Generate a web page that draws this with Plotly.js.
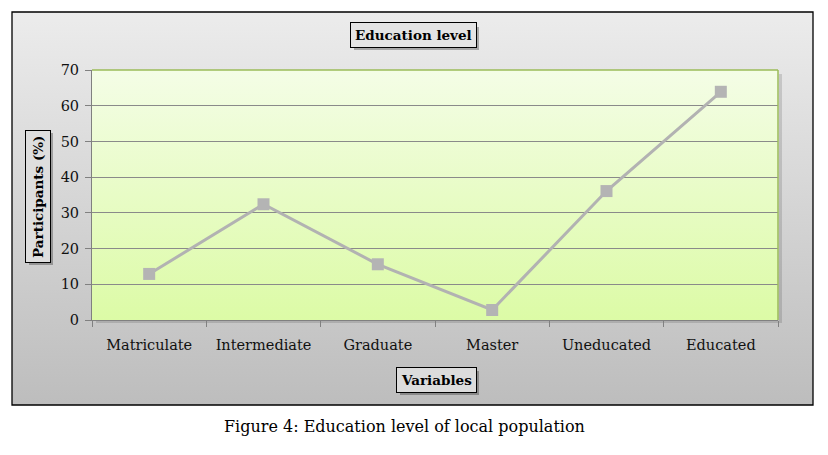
<!DOCTYPE html>
<html>
<head>
<meta charset="utf-8">
<script src="https://cdn.plot.ly/plotly-3.0.1.min.js"></script>
<style>
html,body{margin:0;padding:0;background:#fff;}
#chart{width:828px;height:455px;}
</style>
</head>
<body>
<div id="chart"></div>
<script>
var categories = ["Matriculate", "Intermediate", "Graduate", "Master", "Uneducated", "Educated"];
var participants = [12.9, 32.4, 15.6, 2.8, 36.1, 63.9];
var yTickValues = [0, 10, 20, 30, 40, 50, 60, 70];

var FONT = "'DejaVu Serif', 'Liberation Serif', serif";

function gradSvg(c1, c2) {
  var s = "<svg xmlns='http://www.w3.org/2000/svg' width='100' height='100' preserveAspectRatio='none'>" +
    "<defs><linearGradient id='g' x1='0' y1='0' x2='0' y2='1'>" +
    "<stop offset='0' stop-color='" + c1 + "'/><stop offset='1' stop-color='" + c2 + "'/></linearGradient></defs>" +
    "<rect width='100' height='100' fill='url(#g)'/></svg>";
  return "data:image/svg+xml;charset=utf-8," + encodeURIComponent(s);
}

// plot area pixels: x 92..778, y 70..320
var L = 92, R = 828 - 778, T = 70, B = 455 - 320;
var W = 828 - L - R, H = 455 - T - B;
function px(x) { return (x - L) / W; }
function py(y) { return (455 - B - y) / H; }

var trace = {
  x: categories,
  y: participants,
  type: "scatter",
  mode: "lines+markers",
  line: {color: "#b2b2b2", width: 3},
  marker: {symbol: "square", size: 12, color: "#b4b4b4"},
  hoverinfo: "x+y",
  cliponaxis: false
};

var boxFont = {family: FONT, size: 13.5, color: "#000"};

function boxAnn(text, x, y, angle, bg) {
  return {text: "<b>" + text + "</b>", xref: "paper", yref: "paper", x: x, y: y,
    xanchor: "center", yanchor: "middle", showarrow: false, textangle: angle,
    borderpad: 4, borderwidth: 1, font: boxFont, bgcolor: bg, bordercolor: "#000"};
}

function shadow(x0, x1, y0, y1) {
  return {type: "rect", xref: "paper", yref: "paper", x0: px(x0 + 3), x1: px(x1 + 3), y0: py(y1 + 3), y1: py(y0 + 3),
    line: {width: 0}, fillcolor: "rgba(0,0,0,0.28)", layer: "below"};
}

var annotations = [
  boxAnn("Education level", px(413), py(35), 0, "#e4e4e4"),
  boxAnn("Variables", px(436), py(380), 0, "#dcdcdc"),
  boxAnn("Participants (%)", px(38), py(196), -90, "#dedede"),
  {text: "Figure 4: Education level of local population", xref: "paper", yref: "paper",
   x: px(404), y: py(426), xanchor: "center", yanchor: "middle", showarrow: false,
   font: {family: FONT, size: 16, color: "#000"}}
];

var layout = {
  width: 828, height: 455,
  margin: {l: L, r: R, t: T, b: B, pad: 0},
  paper_bgcolor: "#ffffff",
  plot_bgcolor: "rgba(0,0,0,0)",
  showlegend: false,
  font: {family: FONT, size: 15, color: "#111"},
  xaxis: {
    type: "category",
    range: [-0.5, categories.length - 0.5],
    tickson: "boundaries",
    ticks: "outside",
    ticklen: 6,
    tickcolor: "#808080",
    showline: true,
    linecolor: "#808080",
    linewidth: 1,
    showgrid: false,
    ticklabelstandoff: 12,
    tickfont: {family: FONT, size: 14.5, color: "#111"},
    fixedrange: true
  },
  yaxis: {
    range: [0, 70],
    tickvals: yTickValues,
    ticktext: yTickValues.map(String),
    ticks: "outside",
    ticklen: 6,
    tickcolor: "#808080",
    showline: true,
    linecolor: "#808080",
    linewidth: 1,
    showgrid: true,
    gridcolor: "#8a8a8a",
    gridwidth: 1,
    zeroline: false,
    ticklabelstandoff: 3,
    tickfont: {family: FONT, size: 14.5, color: "#111"},
    fixedrange: true
  },
  images: [
    {source: gradSvg("#ececec", "#bdbdbd"), xref: "paper", yref: "paper",
     x: px(12), y: py(12), sizex: px(813) - px(12), sizey: py(12) - py(405),
     sizing: "stretch", xanchor: "left", yanchor: "top", layer: "below"},
    {source: gradSvg("#f4fde6", "#dcfba6"), xref: "paper", yref: "paper",
     x: 0, y: 1, sizex: 1, sizey: 1,
     sizing: "stretch", xanchor: "left", yanchor: "top", layer: "below"}
  ],
  shapes: [
    // outer chart border
    {type: "rect", xref: "paper", yref: "paper", x0: px(12), x1: px(813), y0: py(405), y1: py(12),
     line: {color: "#000", width: 1.3}, layer: "below"},
    // plot area shadow strips (right and bottom)
    {type: "rect", xref: "paper", yref: "paper", x0: px(779), x1: px(782), y0: py(323), y1: py(74),
     line: {width: 0}, fillcolor: "rgba(0,0,0,0.13)", layer: "below"},
    {type: "rect", xref: "paper", yref: "paper", x0: px(96), x1: px(779), y0: py(323), y1: py(320.5),
     line: {width: 0}, fillcolor: "rgba(0,0,0,0.13)", layer: "below"},
    // title box shadows
    shadow(351, 476, 24, 47),
    shadow(397, 476, 368, 392),
    shadow(26, 50, 130, 262),
    // plot area top & right border (green)
    {type: "line", xref: "paper", yref: "paper", x0: 0, x1: 1, y0: 1, y1: 1,
     line: {color: "#9bbb59", width: 1.5}},
    {type: "line", xref: "paper", yref: "paper", x0: 1, x1: 1, y0: 0, y1: 1,
     line: {color: "#9bbb59", width: 1.5}}
  ],
  annotations: annotations
};

Plotly.newPlot("chart", [trace], layout, {displayModeBar: false, staticPlot: true});
</script>
</body>
</html>
